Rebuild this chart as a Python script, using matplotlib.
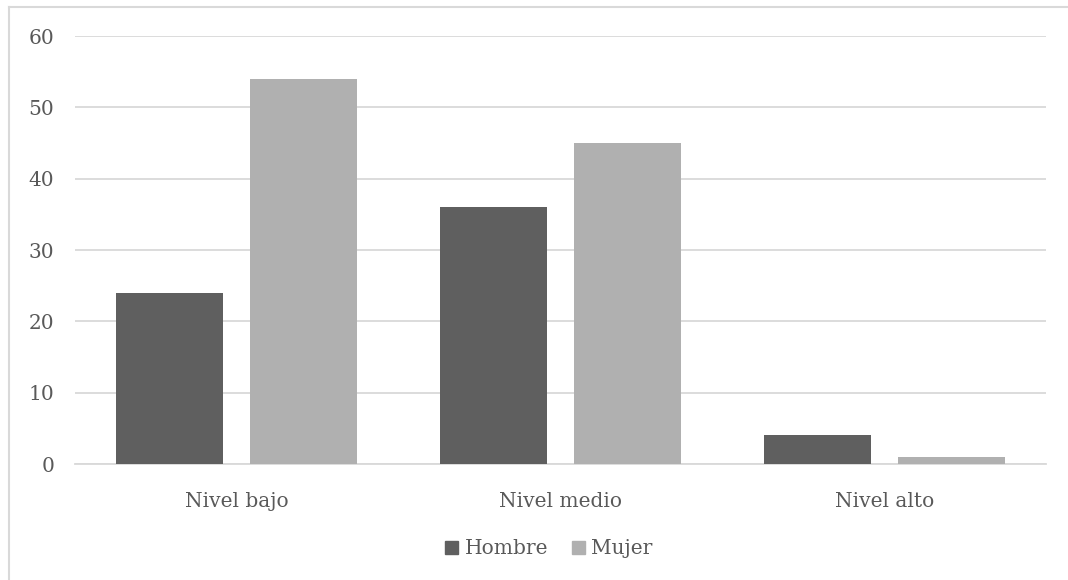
import matplotlib
matplotlib.use("Agg")
import matplotlib.pyplot as plt
import numpy as np
from matplotlib.lines import Line2D
from matplotlib.patches import Patch

categories = ["Nivel bajo", "Nivel medio", "Nivel alto"]
hombre = [24, 36, 4]
mujer = [54, 45, 1]
series_names = ["Hombre", "Mujer"]
yticks = [0, 10, 20, 30, 40, 50, 60]

plt.rcParams['font.family'] = ['DejaVu Serif']
txt = '#595959'
fs = 14.5

fig = plt.figure(figsize=(10.68, 5.8), dpi=100)
ax = fig.add_axes([75/1068, 1-464/580, (1046-75)/1068, (464-36)/580])

x = np.arange(len(categories))
w = 0.33
off = 0.207
ax.bar(x - off, hombre, w, color='#5f5f5f', zorder=3)
ax.bar(x + off, mujer, w, color='#b0b0b0', zorder=3)

ax.set_xlim(-0.5, 2.5)
ax.set_ylim(0, 60)
ax.set_yticks(yticks)
ax.set_xticks(x)
ax.set_xticklabels(categories)
ax.grid(axis='y', color='#d9d9d9', linewidth=1.3, zorder=0)
for s in ['top', 'right', 'left']:
    ax.spines[s].set_visible(False)
ax.spines['bottom'].set_color('#d9d9d9')
ax.spines['bottom'].set_linewidth(1.3)
ax.tick_params(axis='both', length=0, labelsize=fs, colors=txt)
ax.tick_params(axis='y', pad=15)
ax.tick_params(axis='x', pad=20)

handles = [Patch(color='#5f5f5f'), Patch(color='#b0b0b0')]
fig.legend(handles, series_names, loc='center', bbox_to_anchor=(549/1068, 1-549/580),
           ncol=2, frameon=False, fontsize=fs, labelcolor=txt,
           handlelength=0.65, handleheight=0.65, handletextpad=0.3, columnspacing=1.2)

# outer chart border (partially cropped)
fig.add_artist(Line2D([9/1068, 1.0], [1-7/580, 1-7/580], color='#d9d9d9', lw=1.5, transform=fig.transFigure))
fig.add_artist(Line2D([9/1068, 9/1068], [0, 1-7/580], color='#d9d9d9', lw=1.5, transform=fig.transFigure))

fig.savefig("out.png", dpi=100)
